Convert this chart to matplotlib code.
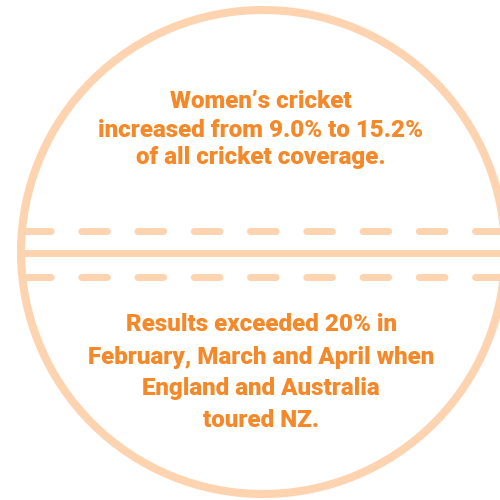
import matplotlib.pyplot as plt
import matplotlib.patches as patches

# text content
top_lines = ["Women\u2019s cricket", "increased from 9.0% to 15.2%", "of all cricket coverage."]
top_baselines = [108, 137, 164]
bottom_lines = ["Results exceeded 20% in", "February, March and April when",
                "England and Australia", "toured NZ."]
bottom_baselines = [331, 364, 395, 427]

# stitching lines of the ball
dashed_y = [231, 277]
solid_y = [253]

ball_color = '#FDD3B0'
text_color = '#F5892A'

fig = plt.figure(figsize=(5, 5), dpi=100)
ax = fig.add_axes([0, 0, 1, 1])
ax.set_xlim(0, 500)
ax.set_ylim(500, 0)
ax.axis('off')

cx, cy, r = 263, 252, 242
circle = patches.Circle((cx, cy), r, edgecolor=ball_color, facecolor='none', linewidth=5.8)
ax.add_patch(circle)

for y in solid_y:
    ax.plot([cx - r, 500], [y, y], color=ball_color, linewidth=5.0, solid_capstyle='butt')
for y in dashed_y:
    ax.plot([25, 540], [y, y], color=ball_color, linewidth=5.0,
            dashes=(3.7, 4.4), dash_capstyle='round')

for line, yb in zip(top_lines, top_baselines):
    ax.text(261, yb, line, ha='center', va='baseline', fontsize=17.4,
            fontfamily='Roboto', fontweight='heavy', color=text_color)
for line, yb in zip(bottom_lines, bottom_baselines):
    ax.text(261, yb, line, ha='center', va='baseline', fontsize=17.4,
            fontfamily='Roboto', fontweight='heavy', color=text_color)

plt.savefig("out.png", dpi=100)
plt.close()
